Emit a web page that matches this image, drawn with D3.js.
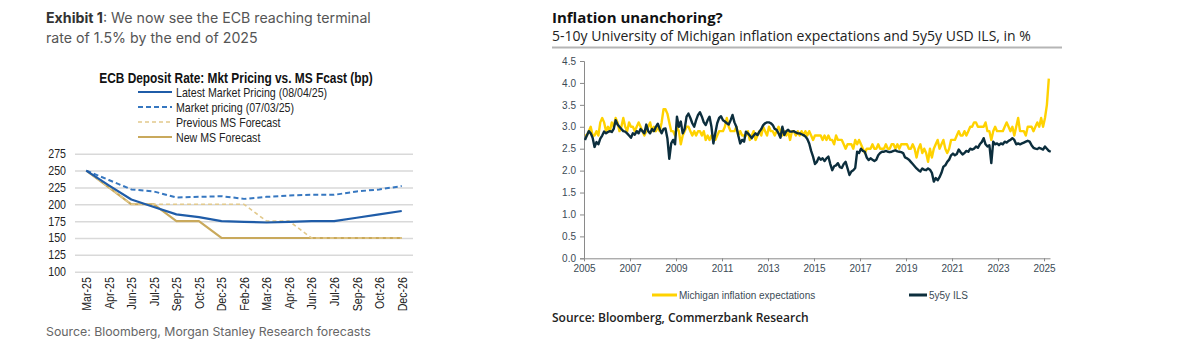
<!DOCTYPE html>
<html><head><meta charset="utf-8">
<script src="https://cdn.jsdelivr.net/npm/d3@7"></script>
<style>
body{margin:0;background:#fff;}
svg{display:block;}
</style></head><body>
<svg id="c" width="1201" height="344"></svg>
<script>
// ---------- Left chart data (bp) ----------
const ecbCategories = ["Mar-25","Apr-25","Jun-25","Jul-25","Sep-25","Oct-25","Dec-25","Feb-26","Mar-26","Apr-26","Jun-26","Jul-26","Sep-26","Oct-26","Dec-26"];
const latestMarket  = [250,228,207,196,185,181,175,174,173,174,175,175,180,185,190];
const marketPricing = [250,236,222,219,210,211,212,208,211,213,214,214,219,222,227];
const previousMS    = [250,225,200,200,200,200,200,200,175,175,150,150,150,150,150];
const newMS         = [250,225,200,200,175,175,150,150,150,150,150,150,150,150,150];
const ecbTicks = [100,125,150,175,200,225,250,275];
const ecbLegend = ["Latest Market Pricing (08/04/25)","Market pricing (07/03/25)","Previous MS Forecast","New MS Forecast"];

// ---------- Right chart data (%), monthly from Jan 2005 ----------
const michiganValues = [
2.8,2.8,2.9,3.0,2.8,2.8,2.9,2.8,3.1,3.2,3.1,2.9,
3.0,2.9,3.1,3.0,3.2,3.1,2.9,3.0,3.2,3.0,2.9,3.1,
3.0,3.0,2.9,3.0,3.1,3.0,2.9,2.8,2.9,3.0,3.1,2.9,
3.0,2.9,3.0,2.9,3.1,3.4,3.4,3.3,3.1,2.9,2.9,2.8,
3.0,2.9,2.6,2.8,2.9,3.0,3.0,2.9,2.8,2.9,2.8,2.9,
2.9,2.8,2.9,2.7,2.8,2.7,2.8,2.7,2.7,2.8,2.9,2.9,
2.9,3.0,3.2,3.0,2.9,2.9,2.9,3.0,2.8,2.9,2.8,2.8,
2.8,2.9,2.7,2.8,2.9,2.7,2.8,2.9,2.8,3.0,2.9,2.8,
3.0,2.9,2.9,2.8,2.9,3.0,2.9,2.8,2.9,2.8,2.9,2.7,
2.9,2.9,2.8,2.9,2.8,2.9,2.8,2.9,2.8,2.9,2.8,2.7,
2.8,2.8,2.8,2.8,2.7,2.8,2.7,2.8,2.7,2.7,2.6,2.8,
2.7,2.7,2.7,2.6,2.5,2.6,2.6,2.6,2.5,2.7,2.6,2.7,
2.6,2.5,2.4,2.5,2.5,2.5,2.6,2.5,2.5,2.6,2.5,2.5,
2.5,2.6,2.5,2.5,2.6,2.6,2.5,2.6,2.5,2.6,2.6,2.6,
2.6,2.5,2.5,2.6,2.5,2.3,2.5,2.6,2.4,2.5,2.4,2.2,
2.5,2.3,2.5,2.6,2.7,2.5,2.6,2.7,2.5,2.4,2.5,2.7,
2.7,2.7,2.8,2.9,2.8,2.8,2.9,2.8,2.9,3.0,3.0,3.1,
3.1,3.0,3.0,3.0,3.0,3.1,2.9,2.9,2.7,2.9,3.0,2.9,
2.9,2.9,2.9,3.0,3.1,3.0,2.9,3.0,2.8,3.0,3.2,2.9,
2.9,2.9,2.8,3.0,3.0,3.0,2.9,3.0,3.1,3.0,3.2,3.0,
3.2,3.5,4.1];
const ilsValues = [
2.70,2.80,2.90,2.85,2.75,2.54,2.65,2.60,2.73,2.80,2.89,2.85,
2.88,2.90,2.88,2.95,3.15,3.05,3.00,2.95,2.90,2.89,2.85,2.80,
2.75,2.85,2.82,2.90,2.85,2.95,2.90,2.85,3.05,2.90,2.85,2.95,
2.90,3.00,3.07,2.95,2.85,2.95,2.96,2.74,2.27,2.62,2.70,2.60,
3.23,3.00,3.12,2.85,2.95,3.23,3.30,3.20,3.08,3.00,3.15,3.27,
3.33,3.23,3.10,3.04,3.15,3.23,3.00,2.62,2.85,3.08,3.20,3.24,
3.15,3.12,3.08,3.05,3.15,3.27,3.10,3.00,2.80,2.62,2.70,2.66,
2.89,2.85,2.80,2.74,2.80,2.85,2.81,2.89,2.95,3.04,3.08,3.10,
3.10,3.08,3.04,2.95,2.93,2.85,2.75,3.00,2.81,2.90,2.93,2.89,
2.89,2.90,2.87,2.85,2.85,2.83,2.81,2.78,2.72,2.62,2.45,2.32,
2.15,2.20,2.30,2.25,2.28,2.22,2.28,2.32,2.15,2.01,2.10,2.12,
2.17,2.08,2.06,2.15,2.20,2.05,1.90,1.98,2.01,2.06,2.43,2.40,
2.50,2.45,2.43,2.30,2.24,2.28,2.25,2.22,2.25,2.35,2.40,2.43,
2.43,2.45,2.43,2.42,2.43,2.45,2.46,2.44,2.43,2.42,2.40,2.30,
2.28,2.25,2.20,2.15,2.10,2.05,2.01,1.98,2.05,2.02,2.01,2.05,
2.02,1.95,1.75,1.83,1.78,1.85,1.95,2.09,2.12,2.20,2.25,2.35,
2.39,2.35,2.38,2.48,2.42,2.37,2.40,2.45,2.43,2.50,2.48,2.50,
2.55,2.52,2.60,2.65,2.74,2.60,2.55,2.58,2.17,2.66,2.60,2.62,
2.58,2.62,2.60,2.66,2.64,2.68,2.70,2.74,2.70,2.60,2.62,2.60,
2.62,2.64,2.66,2.68,2.66,2.58,2.52,2.50,2.49,2.52,2.50,2.48,
2.55,2.50,2.45,2.43];
const startYear = 2005;
const inflTicks = [0,0.5,1.0,1.5,2.0,2.5,3.0,3.5,4.0,4.5];
const yearTicks = [2005,2007,2009,2011,2013,2015,2017,2019,2021,2023,2025];
const inflLegend = ["Michigan inflation expectations","5y5y ILS"];

const svg = d3.select("#c");
const narrow = "'Liberation Sans Narrow','Arial Narrow','Liberation Sans',sans-serif";
const sq = 0.85; // horizontal condensation for the narrow-looking left-chart font

// ================= LEFT PANEL =================
const L = svg.append("g");
const t1 = L.append("text").attr("x",46).attr("y",23).attr("font-family","Inter, sans-serif").attr("font-size",14.2).attr("fill","#555");
t1.append("tspan").attr("font-weight",700).attr("fill","#333").text("Exhibit 1");
t1.append("tspan").text(": We now see the ECB reaching terminal");
L.append("text").attr("x",46).attr("y",43).attr("font-family","Inter, sans-serif").attr("font-size",14.2).attr("fill","#555").text("rate of 1.5% by the end of 2025");

L.append("text").attr("transform",`translate(236,83) scale(${sq},1)`).attr("text-anchor","middle").attr("font-family",narrow).attr("font-weight",700).attr("font-size",14).attr("fill","#111").text("ECB Deposit Rate: Mkt Pricing vs. MS Fcast (bp)");

const xL = d3.scalePoint().domain(ecbCategories).range([75,413]).padding(0.5);
const yL = d3.scaleLinear().domain([100,275]).range([271.7,153.7]);

const styles = [
  {color:"#1f5ca8", width:2.2, dash:null},
  {color:"#3677c0", width:2, dash:"5,3"},
  {color:"#e2c98c", width:1.6, dash:"4,3"},
  {color:"#c9a95c", width:2.2, dash:null}
];
const series = [latestMarket, marketPricing, previousMS, newMS];

const gy = L.append("g").attr("transform","translate(75,0)")
  .call(d3.axisLeft(yL).tickValues(ecbTicks).tickSize(-338).tickPadding(0).tickFormat(d3.format("d")));
gy.select(".domain").remove();
gy.selectAll(".tick line").attr("stroke","#d9d9d9").attr("stroke-width",1.5);
gy.selectAll(".tick text").attr("font-family",narrow).attr("font-size",12.5).attr("fill","#222")
  .attr("x",0).attr("transform",`translate(-9,0) scale(${sq},1)`);

const gx = L.append("g").attr("transform","translate(0,272)")
  .call(d3.axisBottom(xL).tickSize(0).tickPadding(0));
gx.select(".domain").remove();
gx.selectAll(".tick text").attr("font-family",narrow).attr("font-size",12.5).attr("fill","#222")
  .attr("transform",`rotate(-90) scale(${sq},1)`).attr("text-anchor","end").attr("dx","-6").attr("dy","0.35em").attr("x",0).attr("y",0);

const lineL = d3.line().x((d,i)=>xL(ecbCategories[i])).y(d=>yL(d));
[3,2,1,0].forEach(k=>{
  L.append("path").attr("d",lineL(series[k])).attr("fill","none")
   .attr("stroke",styles[k].color).attr("stroke-width",styles[k].width)
   .attr("stroke-dasharray",styles[k].dash).attr("stroke-linejoin","round");
});

ecbLegend.forEach((name,i)=>{
  const y = 92 + i*15;
  L.append("line").attr("x1",138).attr("x2",172).attr("y1",y).attr("y2",y)
   .attr("stroke",styles[i].color).attr("stroke-width",styles[i].width).attr("stroke-dasharray",styles[i].dash);
  L.append("text").attr("transform",`translate(176,${y+4.5}) scale(${sq},1)`).attr("font-family",narrow).attr("font-size",12.5).attr("fill","#222").text(name);
});

L.append("text").attr("x",46).attr("y",336).attr("font-family","Inter, sans-serif").attr("font-size",12.3).attr("fill","#666").text("Source: Bloomberg, Morgan Stanley Research forecasts");

// ================= RIGHT PANEL =================
const R = svg.append("g");
const rf = "'Open Sans', sans-serif";
R.append("text").attr("x",552).attr("y",23).attr("font-family",rf).attr("font-weight",700).attr("font-size",15).attr("fill","#111").text("Inflation unanchoring?");
R.append("text").attr("x",552).attr("y",41).attr("font-family",rf).attr("font-size",14).attr("fill","#222").text("5-10y University of Michigan inflation expectations and 5y5y USD ILS, in %");
R.append("line").attr("x1",552).attr("x2",1062).attr("y1",47.5).attr("y2",47.5).attr("stroke","#b5b5b5").attr("stroke-width",2);

const xR = d3.scaleLinear().domain([2005,2025.26]).range([584,1050]);
const yR = d3.scaleLinear().domain([0,4.5]).range([258.3,61]);
const axf = "'Liberation Sans', Arial, sans-serif";

const ay = R.append("g").attr("transform","translate(584,0)")
  .call(d3.axisLeft(yR).tickValues(inflTicks).tickSize(4).tickPadding(4).tickFormat(d3.format(".1f")));
ay.select(".domain").attr("stroke","#8a8a8a");
ay.selectAll(".tick line").attr("stroke","#8a8a8a");
ay.selectAll(".tick text").attr("font-family",axf).attr("font-size",10).attr("fill","#3b4a55");

const ax = R.append("g").attr("transform","translate(0,258.3)")
  .call(d3.axisBottom(xR).tickValues(yearTicks).tickSize(3).tickPadding(4).tickFormat(d3.format("d")).tickSizeOuter(0));
ax.select(".domain").attr("stroke","#8a8a8a");
ax.selectAll(".tick line").attr("stroke","#8a8a8a");
ax.selectAll(".tick text").attr("font-family",axf).attr("font-size",10).attr("fill","#3b4a55");

const lineR = d3.line().x((d,i)=>xR(startYear + (i+0.5)/12)).y(d=>yR(d)).curve(d3.curveLinear);
R.append("path").attr("d",lineR(michiganValues)).attr("fill","none").attr("stroke","#ffd200").attr("stroke-width",2.4).attr("stroke-linejoin","round");
R.append("path").attr("d",lineR(ilsValues)).attr("fill","none").attr("stroke","#0c2e3d").attr("stroke-width",2.4).attr("stroke-linejoin","round");

const legCols = ["#ffd200","#0c2e3d"];
const legX = [652, 909];
const legW = [25, 18];
inflLegend.forEach((name,i)=>{
  R.append("line").attr("x1",legX[i]).attr("x2",legX[i]+legW[i]).attr("y1",295).attr("y2",295).attr("stroke",legCols[i]).attr("stroke-width",3);
  R.append("text").attr("x",legX[i]+legW[i]+2).attr("y",298.5).attr("font-family",axf).attr("font-size",10).attr("fill","#3b4a55").text(name);
});

R.append("text").attr("x",552).attr("y",322).attr("font-family",rf).attr("font-weight",600).attr("font-size",12).attr("fill","#222").text("Source: Bloomberg, Commerzbank Research");
</script>
</body></html>
